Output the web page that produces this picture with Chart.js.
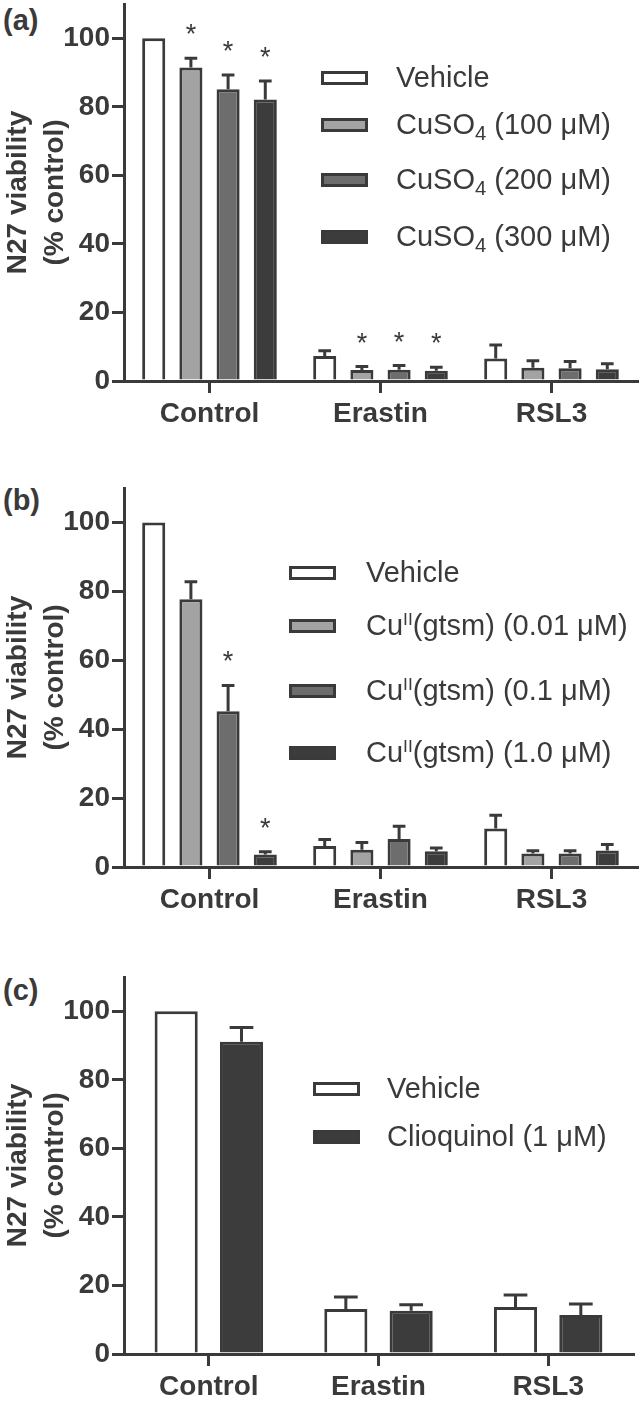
<!DOCTYPE html>
<html>
<head>
<meta charset="utf-8">
<script src="https://cdn.jsdelivr.net/npm/chart.js@4.4.0/dist/chart.umd.min.js"></script>
<style>
body { margin: 0; background: #fff; width: 641px; height: 1402px; position: relative; overflow: hidden;
       font-family: "Liberation Sans", Arial, sans-serif; color: #3a3a3a; }
canvas { position: absolute; left: 0; }
.tag { position: absolute; left: 3px; font-weight: bold; font-size: 29px; }
.leg { position: absolute; font-size: 29px; line-height: 1; white-space: nowrap; }
.sw { position: absolute; width: 47px; height: 14px; box-sizing: border-box; border: 3px solid #3a3a3a; }
sub { font-size: 0.7em; vertical-align: -0.3em; line-height: 0; }
sup { font-size: 0.6em; vertical-align: 0.6em; line-height: 0; }
</style>
</head>
<body>
<div class="tag" style="top:4px">(a)</div>
<div class="tag" style="top:484px">(b)</div>
<div class="tag" style="top:974px">(c)</div>
<canvas id="chartA" width="641" height="450" style="top:0px"></canvas>
<canvas id="chartB" width="641" height="450" style="top:480px"></canvas>
<canvas id="chartC" width="641" height="437" style="top:965px"></canvas>
<script>
// shared axis data
const categories = ["Control", "Erastin", "RSL3"];
const yTicks = [0, 20, 40, 60, 80, 100];

// (a) CuSO4 - mean viability per treatment, one array per series (Control, Erastin, RSL3)
const cuLabels = ["Vehicle", "CuSO<sub>4</sub> (100 μM)", "CuSO<sub>4</sub> (200 μM)", "CuSO<sub>4</sub> (300 μM)"];
const cuMeans = [
    [100, 7.3, 6.6],
    [91.5, 3.2, 3.9],
    [85.1, 3.3, 3.7],
    [82.1, 3.0, 3.4]
];
const cuSem = [
    [0, 1.5, 3.9],
    [2.7, 1.0, 2.0],
    [4.2, 1.2, 2.0],
    [5.4, 1.0, 1.6]
];
const cuStars = [
    [0, 0, 0],
    [1, 1, 0],
    [1, 1, 0],
    [1, 1, 0]
];

// (b) Cu(II)(gtsm)
const gtsmLabels = ["Vehicle", "Cu<sup>II</sup>(gtsm) (0.01 μM)", "Cu<sup>II</sup>(gtsm) (0.1 μM)", "Cu<sup>II</sup>(gtsm) (1.0 μM)"];
const gtsmMeans = [
    [100, 6.1, 11.2],
    [77.7, 5.0, 3.9],
    [45.2, 8.1, 3.9],
    [3.6, 4.6, 4.8]
];
const gtsmSem = [
    [0, 1.9, 3.8],
    [5.1, 2.1, 0.8],
    [7.5, 3.7, 0.8],
    [0.8, 0.9, 1.7]
];
const gtsmStars = [
    [0, 0, 0],
    [0, 0, 0],
    [1, 0, 0],
    [1, 0, 0]
];

// (c) Clioquinol
const cqLabels = ["Vehicle", "Clioquinol (1 μM)"];
const cqMeans = [
    [100, 13.1, 13.7],
    [91.1, 12.6, 11.4]
];
const cqSem = [
    [0, 3.5, 3.5],
    [4.2, 1.8, 3.2]
];
const cqStars = [
    [0, 0, 0],
    [0, 0, 0]
];

const ink = "#3a3a3a";
const fills4 = ["#ffffff", "#a3a3a3", "#6d6d6d", "#3c3c3c"];
const fills2 = ["#ffffff", "#3c3c3c"];

// draws the upper error whisker and significance stars for each bar
const errorBars = {
    id: "errorBars",
    afterDatasetsDraw(chart, args, opts) {
        const ctx = chart.ctx;
        const y = chart.scales.y;
        ctx.save();
        ctx.strokeStyle = ink;
        ctx.fillStyle = ink;
        ctx.lineWidth = 3;
        chart.data.datasets.forEach(function(ds, i) {
            const meta = chart.getDatasetMeta(i);
            meta.data.forEach(function(bar, j) {
                let top = bar.y;
                const sem = opts.sem[i][j];
                if (sem > 0) {
                    top = y.getPixelForValue(ds.data[j] + sem);
                    const cap = bar.width * 0.55;
                    ctx.beginPath();
                    ctx.moveTo(bar.x, bar.y);
                    ctx.lineTo(bar.x, top);
                    ctx.moveTo(bar.x - cap / 2, top);
                    ctx.lineTo(bar.x + cap / 2, top);
                    ctx.stroke();
                }
                if (opts.stars[i][j]) {
                    ctx.font = "27px 'Liberation Sans', Arial, sans-serif";
                    ctx.textAlign = "center";
                    ctx.textBaseline = "alphabetic";
                    ctx.fillText("*", bar.x, top - 15);
                }
            });
        });
        ctx.restore();
    }
};

function makePanel(id, labels, means, sem, stars, fills, barPct, catPct, padTop, xHeight, padRight) {
    const datasets = [];
    for (let i = 0; i < means.length; i++) {
        datasets.push({
            label: labels[i],
            data: means[i],
            backgroundColor: fills[i],
            borderColor: ink,
            borderWidth: 3,
            barPercentage: barPct,
            categoryPercentage: catPct
        });
    }
    return new Chart(document.getElementById(id), {
        type: "bar",
        data: { labels: categories, datasets: datasets },
        options: {
            responsive: false,
            animation: false,
            devicePixelRatio: 1,
            layout: { padding: { top: padTop, right: padRight, left: 0, bottom: 0 } },
            plugins: {
                legend: { display: false },
                tooltip: { enabled: false },
                errorBars: { sem: sem, stars: stars }
            },
            scales: {
                x: {
                    afterFit: function(s) { s.height = xHeight; },
                    border: { display: true, width: 3, color: ink },
                    grid: { offset: false, drawOnChartArea: false, tickLength: 12, lineWidth: 3, color: ink },
                    ticks: { color: ink, font: { size: 28, weight: "bold" }, padding: 4 }
                },
                y: {
                    min: 0,
                    max: 110,
                    afterBuildTicks: function(s) { s.ticks = yTicks.map(v => ({ value: v })); },
                    afterFit: function(s) { s.width = 124; s.paddingTop = 0; s.paddingBottom = 0; },
                    border: { display: true, width: 3, color: ink },
                    grid: { drawOnChartArea: false, tickLength: 12, lineWidth: 3, color: ink },
                    ticks: { color: ink, font: { size: 28, weight: "bold" }, padding: 2 },
                    title: {
                        display: true,
                        text: ["N27 viability", "(% control)"],
                        color: ink,
                        font: { size: 28, weight: "bold", lineHeight: 1.32 },
                        padding: 0
                    }
                }
            }
        },
        plugins: [errorBars]
    });
}

// html legend: swatch + label rows
function makeLegend(labels, fills, swLeft, textLeft, rows) {
    for (let i = 0; i < labels.length; i++) {
        const sw = document.createElement("div");
        sw.className = "sw";
        sw.style.left = swLeft + "px";
        sw.style.top = (rows[i] - 7) + "px";
        sw.style.background = fills[i];
        document.body.appendChild(sw);
        const t = document.createElement("div");
        t.className = "leg";
        t.style.left = textLeft + "px";
        t.style.top = (rows[i] - 15) + "px";
        t.innerHTML = labels[i];
        document.body.appendChild(t);
    }
}

Chart.defaults.font.family = "'Liberation Sans', Arial, sans-serif";
makePanel("chartA", cuLabels, cuMeans, cuSem, cuStars, fills4, 0.62, 0.87, 4, 69, 4);
makePanel("chartB", gtsmLabels, gtsmMeans, gtsmSem, gtsmStars, fills4, 0.62, 0.87, 8, 63, 4);
makePanel("chartC", cqLabels, cqMeans, cqSem, cqStars, fills2, 0.66, 0.77, 12, 48, 8);
makeLegend(cuLabels, fills4, 321, 396, [78, 125, 180, 237]);
makeLegend(gtsmLabels, fills4, 289, 366, [573, 626, 691, 753]);
makeLegend(cqLabels, fills2, 313, 387, [1089, 1137]);
</script>
</body>
</html>
